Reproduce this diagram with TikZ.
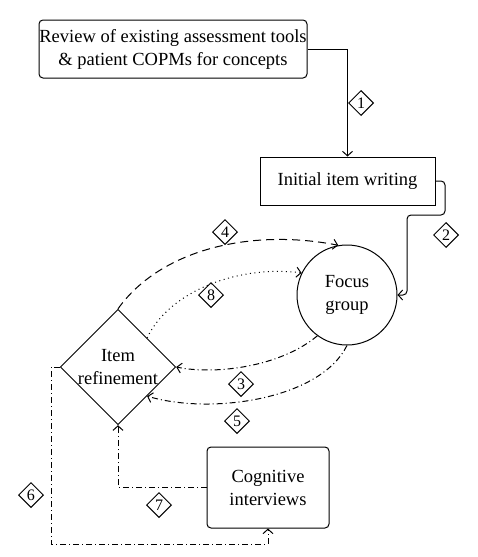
\documentclass[tikz,border=0pt]{standalone}
\usepackage{fontspec}
\setmainfont{Liberation Serif}
\usetikzlibrary{arrows.meta,shapes.geometric}
\begin{document}
\begin{tikzpicture}[x=1pt,y=-1pt,
  every node/.style={font=\fontsize{18.5}{23}\selectfont, align=center, line width=1pt},
  box/.style={draw, inner sep=0pt},
  rbox/.style={draw, rounded corners=4pt, inner sep=0pt},
  num/.style={draw, shape=diamond, inner sep=0pt, minimum width=25pt, minimum height=25pt, font=\fontsize{16}{16}\selectfont},
  conn/.style={line width=1pt, -{Straight Barb[length=4.5pt,width=10pt]}},
  dashdot/.style={dash pattern=on 6pt off 3pt on 1pt off 3pt},
  dsh/.style={dash pattern=on 8pt off 5pt},
  dots/.style={dash pattern=on 1pt off 3.5pt}]
\useasboundingbox (0,0) rectangle (477,557);
\node[rbox, minimum width=268pt, minimum height=58pt] (review) at (173,49) {Review of existing assessment tools\\ \& patient COPMs for concepts};
\node[box, minimum width=175pt, minimum height=48pt] (init) at (347.5,181) {Initial item writing};
\node[draw, circle, minimum size=100pt, inner sep=0pt] (focus) at (347,295) {Focus\\group};
\node[draw, shape=diamond, minimum width=108pt, minimum height=104pt, inner sep=0pt] (dia) at (118,367) {Item\\refinement};
\node[rbox, minimum width=122pt, minimum height=81pt] (cog) at (268,487.5) {Cognitive\\interviews};
\coordinate (c2a) at (445,181);
\coordinate (c2b) at (445,215);
\coordinate (c2c) at (407,215);
\coordinate (c2d) at (407,295);
\coordinate (c6a) at (51,367);
\coordinate (c6b) at (51,544);
% connectors
\draw[conn] (review.east) -| (init.north);
\draw[conn, rounded corners=4pt] (init.east) -- (c2a) -- (c2b) -- (c2c) -- (c2d) -- (focus.east);
\draw[conn, dsh] (dia.north) .. controls (160,250) and (250,228) .. (focus.100);
\draw[conn, dots] (dia.north east) .. controls (170,290) and (240,265) .. (focus.154);
\draw[conn, dashdot] (focus.234) .. controls (280,367) and (215,375) .. (dia.east);
\draw[conn, dashdot] (focus.south) .. controls (320,400) and (210,415) .. (dia.south east);
\draw[conn, dashdot] (cog.west) -| (dia.south);
\draw[conn, dashdot] (dia.west) -- (c6a) -- (c6b) -| (cog.south);
% labels
\node[num] (n1) at (361,103) {1};
\node[num] (n2) at (446,235) {2};
\node[num] (n4) at (225,232) {4};
\node[num] (n8) at (211,295) {8};
\node[num] (n3) at (241,384) {3};
\node[num] (n5) at (237,421) {5};
\node[num] (n7) at (159,505) {7};
\node[num] (n6) at (31,495) {6};
\end{tikzpicture}
\end{document}
